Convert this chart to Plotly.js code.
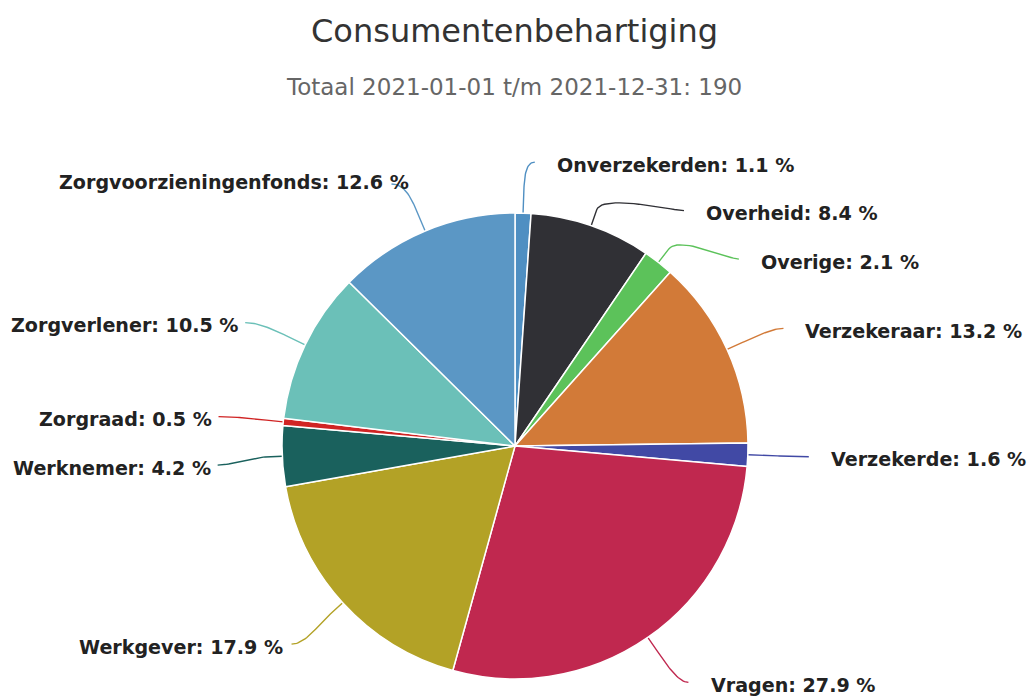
<!DOCTYPE html>
<html>
<head>
<meta charset="utf-8">
<script src="https://cdn.plot.ly/plotly-3.0.1.min.js"></script>
<style>html,body{margin:0;padding:0;background:#fff;}#chart{width:1027px;height:699px;}</style>
</head>
<body>
<div id="chart"></div>
<script>
// ---- data ----
const categories = ["Onverzekerden","Overheid","Overige","Verzekeraar","Verzekerde","Vragen","Werkgever","Werknemer","Zorgraad","Zorgverlener","Zorgvoorzieningenfonds"];
const percentages = [1.1, 8.4, 2.1, 13.2, 1.6, 27.9, 17.9, 4.2, 0.5, 10.5, 12.6];
const colors = ["#4f8fc2","#303035","#5cc25a","#d27a38","#4149a5","#c0284f","#b3a226","#1a615d","#d02424","#6bc0b8","#5b97c5"];
const titleText = "Consumentenbehartiging";
const subtitleText = "Totaal 2021-01-01 t/m 2021-12-31: 190";

// ---- layout constants ----
const W = 1027, H = 699;
const cx = 515, cy = 446, r = 233;
const labelDist = 51, breakDist = 17, minGap = 48.5;
const labelFont = {family: "DejaVu Sans", size: 19.1, color: "#222"};
// extra offsets (layout only), per category index
const textNudge = {10: [25, -4], 5: [7, 0], 6: [-8, 0]};
const connNudge = {5: 6, 6: -6};
const labelYShift = {5: 3, 6: 7};

const total = percentages.reduce((a, b) => a + b, 0);
let cum = 0;
const pts = percentages.map((v, i) => {
  const f = (cum + v / 2) / total;
  cum += v;
  const th = 2 * Math.PI * f;
  const side = Math.sin(th) >= 0 ? 1 : -1;
  const R = r + labelDist;
  return {i, th, side, ny: cy - R * Math.cos(th)};
});
// simple collision avoidance per side
[1, -1].forEach(s => {
  const arr = pts.filter(p => p.side === s).sort((a, b) => a.ny - b.ny);
  let prev = -1e9;
  arr.forEach(p => { p.y = Math.max(p.ny, prev + minGap) + (labelYShift[p.i] || 0); prev = p.y; });
});

const traces = [{
  type: "pie",
  labels: categories,
  values: percentages,
  sort: false,
  direction: "clockwise",
  rotation: 0,
  textinfo: "none",
  hoverinfo: "label+percent",
  marker: {colors: colors, line: {color: "#ffffff", width: 1.5}},
  domain: {x: [(cx - r) / W, (cx + r) / W], y: [1 - (cy + r) / H, 1 - (cy - r) / H]},
  showlegend: false
}];
const annotations = [];

pts.forEach(p => {
  const R = r + labelDist;
  const dy = p.y - cy;
  const ax = cx + p.side * Math.sqrt(Math.max(0, R * R - dy * dy));
  const nd = textNudge[p.i] || [0, 0];
  const ex = ax + (p.side > 0 ? 10 : -14) + (connNudge[p.i] || 0), ey = p.y;
  const tx = cx + r * Math.sin(p.th), ty = cy - r * Math.cos(p.th);
  const bx = cx + (r + breakDist) * Math.sin(p.th), by = cy - (r + breakDist) * Math.cos(p.th);
  const c1x = ex - (p.side > 0 ? 10 : -14), c1y = p.y;
  const c2x = 2 * bx - tx, c2y = 2 * by - ty;
  const xs = [], ys = [];
  for (let k = 0; k <= 24; k++) {
    const t = k / 24, u = 1 - t;
    xs.push(u*u*u*ex + 3*u*u*t*c1x + 3*u*t*t*c2x + t*t*t*bx);
    ys.push(u*u*u*ey + 3*u*u*t*c1y + 3*u*t*t*c2y + t*t*t*by);
  }
  xs.push(tx); ys.push(ty);
  traces.push({type: "scatter", mode: "lines", x: xs, y: ys, xaxis: "x", yaxis: "y",
    line: {color: colors[p.i], width: 1.4}, hoverinfo: "skip", showlegend: false});
  annotations.push({
    xref: "x", yref: "y",
    x: (p.side > 0 ? ax + 30 : ax - 19) + nd[0], y: p.y + 3 + nd[1],
    xanchor: p.side > 0 ? "left" : "right", yanchor: "middle",
    text: "<b>" + categories[p.i] + ": " + percentages[p.i].toFixed(1) + " %</b>",
    showarrow: false, font: labelFont
  });
});

annotations.push({xref: "x", yref: "y", x: 514, y: 31, xanchor: "center", yanchor: "middle",
  text: titleText, showarrow: false, font: {family: "DejaVu Sans", size: 32, color: "#333333"}});
annotations.push({xref: "x", yref: "y", x: 514, y: 87, xanchor: "center", yanchor: "middle",
  text: subtitleText, showarrow: false, font: {family: "DejaVu Sans", size: 23, color: "#666666"}});

const layout = {
  width: W, height: H,
  margin: {l: 0, r: 0, t: 0, b: 0},
  paper_bgcolor: "#ffffff", plot_bgcolor: "rgba(0,0,0,0)",
  xaxis: {range: [0, W], visible: false, fixedrange: true, domain: [0, 1]},
  yaxis: {range: [H, 0], visible: false, fixedrange: true, domain: [0, 1]},
  annotations: annotations,
  showlegend: false
};
Plotly.newPlot("chart", traces, layout, {displayModeBar: false, staticPlot: true});
</script>
</body>
</html>
